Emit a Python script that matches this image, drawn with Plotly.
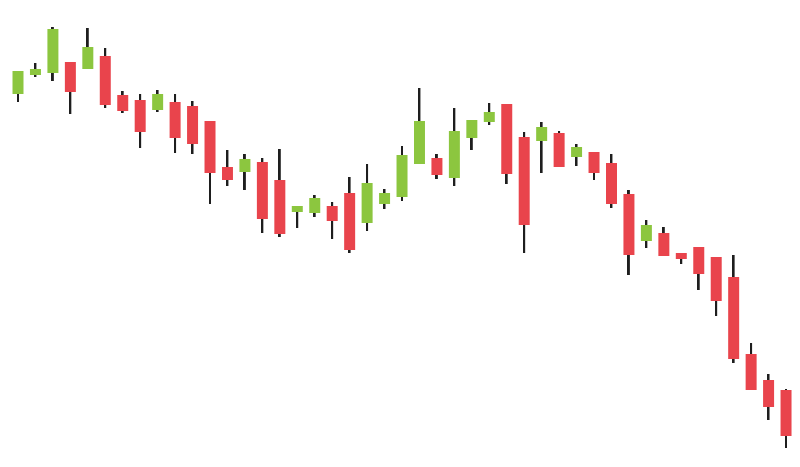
"""
Candlestick chart, downtrend with a mid-session rebound
"""
import plotly.graph_objects as go

# price data, one candle per session
sessions = list(range(1, 46))
open_px = [373, 392, 394, 405, 398, 411, 372, 367, 357, 365, 361, 346, 300, 295, 305,
           287, 255, 254, 261, 274, 244, 263, 270, 303, 309, 289, 329, 345, 363, 330,
           326, 334, 310, 315, 304, 273, 226, 234, 214, 220, 210, 190, 113, 87, 77]
high_px = [396, 404, 440, 405, 439, 419, 376, 373, 377, 373, 366, 346, 317, 313, 309,
           318, 261, 272, 265, 290, 303, 278, 321, 379, 313, 359, 347, 364, 363, 335,
           345, 336, 323, 315, 313, 277, 247, 240, 214, 220, 210, 212, 124, 93, 78]
low_px = [365, 390, 386, 353, 398, 359, 354, 319, 355, 314, 313, 263, 281, 277, 234,
          230, 239, 250, 228, 214, 236, 258, 266, 303, 288, 281, 317, 342, 283, 214,
          294, 300, 301, 287, 259, 192, 219, 211, 203, 177, 151, 104, 77, 47, 19]
close_px = [396, 398, 438, 375, 420, 362, 356, 335, 373, 329, 323, 294, 287, 308, 248,
            233, 261, 269, 246, 217, 284, 274, 312, 346, 292, 336, 347, 355, 293, 242,
            340, 300, 320, 294, 263, 212, 242, 211, 208, 193, 166, 108, 77, 60, 31]

UP = "#8cc63f"
DOWN = "#e9444c"
WICK = "#1e1e1e"

body_base = [min(o, c) for o, c in zip(open_px, close_px)]
body_size = [abs(c - o) for o, c in zip(open_px, close_px)]
body_color = [UP if c >= o else DOWN for o, c in zip(open_px, close_px)]
wick_size = [h - l for h, l in zip(high_px, low_px)]

fig = go.Figure()
# wicks: thin bars from low to high
fig.add_trace(
    go.Bar(
        x=sessions,
        y=wick_size,
        base=low_px,
        width=0.11,
        marker=dict(color=WICK, line=dict(width=0)),
        hoverinfo="skip",
    )
)
# bodies drawn on top, open -> close
fig.add_trace(
    go.Bar(
        x=sessions,
        y=body_size,
        base=body_base,
        width=0.63,
        marker=dict(color=body_color, line=dict(width=0)),
        customdata=list(zip(open_px, high_px, low_px, close_px)),
        hovertemplate="O %{customdata[0]}<br>H %{customdata[1]}<br>"
                      "L %{customdata[2]}<br>C %{customdata[3]}<extra></extra>",
    )
)

# page body has an 8px default margin, so the figure is 792x459 and the
# axis ranges are set so candles land where they sit in the source image
fig.update_layout(
    width=792,
    height=459,
    margin=dict(l=0, r=0, t=0, b=0),
    paper_bgcolor="white",
    plot_bgcolor="white",
    barmode="overlay",
    showlegend=False,
    xaxis=dict(visible=False, range=[0.427, 45.80]),
    yaxis=dict(visible=False, range=[0, 459]),
)

fig.write_html("out.html")
